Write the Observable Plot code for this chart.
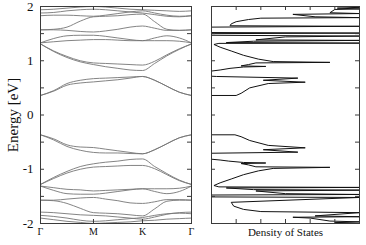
<!DOCTYPE html>
<html><head><meta charset="utf-8">
<script src="https://cdn.jsdelivr.net/npm/d3@7"></script>
<script src="https://cdn.jsdelivr.net/npm/@observablehq/plot@0.6"></script>
<style>
body{margin:0;background:#fff;width:366px;height:245px;position:relative;overflow:hidden}
#left{position:absolute;left:0;top:0}
#right{position:absolute;left:196px;top:0}
</style>
</head><body><div id="left"></div><div id="right"></div>
<script>
// k-path: high-symmetry points and labels
const kLabels = ["Γ", "M", "K", "Γ"];
const kSym = [0, 1.0, 1.925, 2.85];
const kPath = [0, 0.25, 0.5, 0.75, 1.0, 1.23, 1.46, 1.69, 1.925, 2.155, 2.385, 2.62, 2.85];

// band energies (eV) at kPath points
const c1 = [0.36, 0.44, 0.55, 0.59, 0.61, 0.63, 0.65, 0.68, 0.71, 0.64, 0.53, 0.42, 0.36];
const c2 = [0.36, 0.45, 0.58, 0.64, 0.67, 0.68, 0.69, 0.70, 0.71, 0.64, 0.53, 0.42, 0.36];
const c3 = [1.31, 1.17, 1.06, 0.98, 0.93, 0.89, 0.86, 0.83, 0.82, 0.95, 1.09, 1.21, 1.31];
const c4 = [1.31, 1.18, 1.08, 1.00, 0.96, 0.95, 0.94, 0.93, 0.92, 0.99, 1.11, 1.22, 1.31];
const c5 = [1.33, 1.41, 1.46, 1.47, 1.47, 1.45, 1.42, 1.39, 1.37, 1.42, 1.46, 1.42, 1.33];
const c6 = [1.33, 1.35, 1.37, 1.38, 1.39, 1.39, 1.38, 1.37, 1.37, 1.37, 1.37, 1.36, 1.33];
const c7 = [1.57, 1.57, 1.56, 1.54, 1.53, 1.55, 1.58, 1.62, 1.64, 1.60, 1.56, 1.56, 1.57];
const c8 = [1.57, 1.58, 1.62, 1.73, 1.81, 1.82, 1.83, 1.85, 1.86, 1.72, 1.58, 1.56, 1.57];
const c9 = [1.83, 1.84, 1.84, 1.83, 1.82, 1.84, 1.87, 1.90, 1.92, 1.88, 1.84, 1.82, 1.83];
const c10 = [1.88, 1.89, 1.92, 1.94, 1.95, 1.94, 1.92, 1.90, 1.88, 1.85, 1.82, 1.81, 1.83];
const c11 = [1.94, 1.95, 1.97, 1.99, 2.00, 1.99, 1.97, 1.95, 1.94, 1.93, 1.92, 1.91, 1.92];
const v1 = [-0.365, -0.44, -0.55, -0.59, -0.60, -0.63, -0.66, -0.69, -0.715, -0.64, -0.53, -0.42, -0.365];
const v2 = [-0.365, -0.46, -0.58, -0.65, -0.69, -0.70, -0.70, -0.71, -0.715, -0.64, -0.53, -0.42, -0.365];
const v3 = [-1.28, -1.15, -1.04, -0.95, -0.90, -0.87, -0.85, -0.82, -0.81, -0.95, -1.08, -1.20, -1.28];
const v4 = [-1.28, -1.17, -1.07, -1.00, -0.96, -0.95, -0.94, -0.93, -0.93, -0.99, -1.10, -1.21, -1.28];
const v5 = [-1.31, -1.39, -1.45, -1.46, -1.46, -1.44, -1.41, -1.38, -1.36, -1.41, -1.45, -1.41, -1.31];
const v6 = [-1.31, -1.34, -1.37, -1.38, -1.40, -1.39, -1.38, -1.37, -1.36, -1.36, -1.36, -1.35, -1.31];
const v7 = [-1.57, -1.57, -1.55, -1.53, -1.52, -1.55, -1.58, -1.62, -1.63, -1.60, -1.56, -1.56, -1.57];
const v8 = [-1.57, -1.58, -1.63, -1.72, -1.80, -1.81, -1.82, -1.84, -1.86, -1.73, -1.59, -1.57, -1.57];
const v9 = [-1.79, -1.80, -1.82, -1.84, -1.85, -1.86, -1.88, -1.90, -1.92, -1.88, -1.83, -1.80, -1.79];
const v10 = [-1.85, -1.87, -1.90, -1.94, -1.96, -1.95, -1.93, -1.91, -1.89, -1.85, -1.82, -1.81, -1.82];
const v11 = [-1.90, -1.93, -1.96, -1.98, -2.00, -1.99, -1.98, -1.97, -1.95, -1.94, -1.92, -1.91, -1.90];

// density of states (arbitrary units) vs energy (eV)
const dosE = [-2.00,-1.985,-1.97,-1.955,-1.90,-1.885,-1.875,-1.86,-1.80,-1.78,-1.74,-1.68,-1.61,-1.52,-1.51,-1.475,-1.465,-1.45,-1.40,-1.385,-1.375,-1.345,-1.335,-1.325,-1.30,-1.25,-1.18,-1.10,-1.03,-0.985,-0.965,-0.955,-0.92,-0.895,-0.885,-0.875,-0.85,-0.83,-0.815,-0.705,-0.685,-0.64,-0.605,-0.56,-0.47,-0.40,-0.365,-0.365,
  0.36,0.36,0.40,0.50,0.58,0.605,0.64,0.68,0.71,0.715,0.81,0.83,0.86,0.885,0.895,0.905,0.93,0.96,0.97,0.985,1.03,1.10,1.18,1.25,1.30,1.32,1.325,1.335,1.36,1.375,1.385,1.44,1.455,1.47,1.50,1.51,1.52,1.62,1.635,1.645,1.68,1.72,1.76,1.785,1.795,1.81,1.855,1.87,1.885,1.945,1.955,1.97,1.985,2.00];
const dosV = [6.0,5.0,6.0,4.8,4.0,3.3,6.0,4.2,6.0,2.0,1.3,0.9,0.8,6.0,0.0,0.0,6.0,3.0,1.8,6.0,1.7,0.6,6.0,0.3,0.1,0.35,0.8,1.3,1.9,2.5,4.8,1.8,1.5,1.2,2.2,1.3,0.7,0.35,0.0,0.0,3.5,2.1,3.8,2.3,1.55,1.2,0.95,0.0,
  0.0,1.0,1.2,1.55,2.3,3.8,2.1,3.5,0.2,0.0,0.0,0.35,0.75,1.3,2.2,1.2,1.5,1.8,4.8,2.5,1.9,1.3,0.8,0.35,0.1,0.3,6.0,0.6,1.7,6.0,1.8,3.0,6.0,0.0,0.0,6.0,0.0,0.0,6.0,0.75,0.8,1.0,1.5,2.0,6.0,4.2,3.3,6.0,4.8,5.0,6.0,5.1,6.0,5.5];

const eLabelTicks = [-2, -1, 0, 1, 2];
const eMinorTicks = [-1.5, -1, -0.5, 0, 0.5, 1, 1.5];
const dosTicks = [1, 2, 3, 4, 5];

const bands = {c1,c2,c3,c4,c5,c6,c7,c8,c9,c10,c11,v1,v2,v3,v4,v5,v6,v7,v8,v9,v10,v11};
const bandData = Object.entries(bands).flatMap(([name, arr]) => arr.map((e, i) => ({band: name, k: kPath[i], e})));
const dosData = dosE.map((e, i) => ({e, d: dosV[i]}));

const font = "'Liberation Serif', 'DejaVu Serif', serif";
const frameColor = "#3a3a3a";

const left = Plot.plot({
  width: 196, height: 245,
  marginLeft: 40, marginRight: 5, marginTop: 6, marginBottom: 22,
  x: {domain: [0, 2.85]},
  y: {domain: [-2, 2]},
  style: {fontFamily: font, background: "white", color: "#111"},
  marks: [
    Plot.line(bandData, {x: "k", y: "e", z: "band", stroke: "#767676", strokeWidth: 0.9, curve: "monotone-x", clip: true}),
    Plot.tickY(eMinorTicks, {y: d => d, insetRight: 147, stroke: frameColor}),
    Plot.tickY(eMinorTicks, {y: d => d, insetLeft: 147, stroke: frameColor}),
    Plot.tickX(kSym.slice(1, -1), {x: d => d, insetBottom: 213, stroke: frameColor}),
    Plot.tickX(kSym.slice(1, -1), {x: d => d, insetTop: 213, stroke: frameColor}),
    Plot.frame({stroke: frameColor}),
    Plot.axisY({ticks: eLabelTicks, tickSize: 0, tickPadding: 7, fontSize: 13, tickFormat: d => String(d), label: null}),
    Plot.axisX({ticks: kSym, tickSize: 0, tickPadding: 4, fontSize: 10, tickFormat: d => kLabels[kSym.indexOf(d)], label: null}),
    Plot.text(["Energy [eV]"], {frameAnchor: "left", textAnchor: "middle", lineAnchor: "middle", rotate: -90, dx: -27, fontSize: 15})
  ]
});
document.getElementById("left").append(left);

const right = Plot.plot({
  width: 170, height: 245,
  marginLeft: 15, marginRight: 7, marginTop: 6, marginBottom: 22,
  x: {domain: [0, 6]},
  y: {domain: [-2, 2]},
  style: {fontFamily: font, background: "white", color: "#111"},
  marks: [
    Plot.line(dosData, {x: "d", y: "e", stroke: "#111", strokeWidth: 1, clip: true}),
    Plot.tickY(eMinorTicks, {y: d => d, insetRight: 144, stroke: frameColor}),
    Plot.tickY(eMinorTicks, {y: d => d, insetLeft: 144, stroke: frameColor}),
    Plot.tickX(dosTicks, {x: d => d, insetBottom: 213, stroke: frameColor}),
    Plot.tickX(dosTicks, {x: d => d, insetTop: 213, stroke: frameColor}),
    Plot.frame({stroke: frameColor}),
    Plot.axisX({ticks: [], label: null}),
    Plot.axisY({ticks: [], label: null}),
    Plot.text(["Density of States"], {frameAnchor: "bottom", lineAnchor: "middle", dy: 9, fontSize: 11})
  ]
});
document.getElementById("right").append(right);
</script>
</body></html>
